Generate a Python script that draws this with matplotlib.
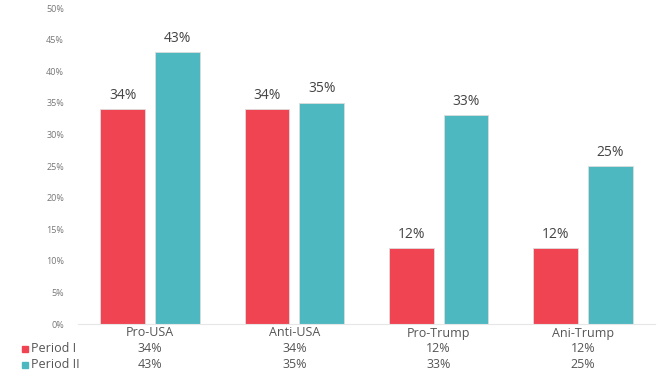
import matplotlib
matplotlib.use("Agg")
import matplotlib.pyplot as plt
import numpy as np
from matplotlib.transforms import blended_transform_factory

plt.rcParams['font.family'] = ['Open Sans', 'DejaVu Sans']

categories = ["Pro-USA", "Anti-USA", "Pro-Trump", "Ani-Trump"]
series_names = ["Period I", "Period II"]
period1 = [34, 34, 12, 12]
period2 = [43, 35, 33, 25]
yticks = [0, 5, 10, 15, 20, 25, 30, 35, 40, 45, 50]

red = "#F04452"
teal = "#4DB8BF"
txt = "#555555"

fig = plt.figure(figsize=(6.64, 3.82), dpi=100)
ax = fig.add_axes([78/664, 1-324/382, (655-78)/664, (324-8)/382])

x = np.arange(len(categories))
w = 0.31
off = 0.19
b1 = ax.bar(x - off, period1, w, color=red, edgecolor="#dddddd", linewidth=0.6)
b2 = ax.bar(x + off, period2, w, color=teal, edgecolor="#dddddd", linewidth=0.6)
for bars, vals in ((b1, period1), (b2, period2)):
    for r, v in zip(bars, vals):
        ax.text(r.get_x() + r.get_width()/2, v + 1.0, f"{v}%", ha="center", va="bottom",
                fontsize=10, color="#444444")

ax.set_xlim(-0.5, 3.5)
ax.set_ylim(0, 50)
ax.set_yticks(yticks)
ax.set_yticklabels([f"{t}%" for t in yticks], fontsize=6.5, color="#777777")
ax.set_xticks([])
for s in ("top", "right", "left"):
    ax.spines[s].set_visible(False)
ax.spines["bottom"].set_color("#e6e6e6")
ax.tick_params(axis="y", length=0, pad=10)

trans = blended_transform_factory(ax.transData, fig.transFigure)
rows_y = [1-333/382, 1-349/382, 1-365/382]
for i, c in enumerate(categories):
    ax.text(i, rows_y[0], c, transform=trans, ha="center", va="center", fontsize=9, color=txt)
    ax.text(i, rows_y[1], f"{period1[i]}%", transform=trans, ha="center", va="center", fontsize=9, color=txt)
    ax.text(i, rows_y[2], f"{period2[i]}%", transform=trans, ha="center", va="center", fontsize=9, color=txt)

for name, col, yy in ((series_names[0], red, rows_y[1]), (series_names[1], teal, rows_y[2])):
    fig.patches.append(plt.Rectangle((22/664, yy - 3/382), 6/664, 6/382, transform=fig.transFigure,
                                     color=col, figure=fig))
    fig.text(31/664, yy, name, ha="left", va="center", fontsize=9, color=txt)

fig.savefig("out.png", dpi=100, facecolor="white")
